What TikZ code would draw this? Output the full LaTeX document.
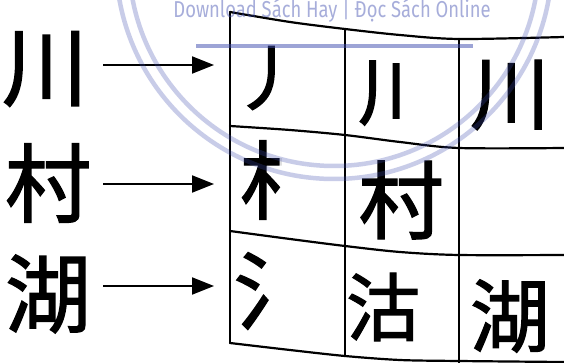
\documentclass[tikz,border=0pt]{standalone}
\usepackage{fontspec}
\newfontfamily\cjk[FakeBold=1.6]{Noto Sans CJK SC}
\newfontfamily\wmfont{Fira Sans}
\usetikzlibrary{arrows.meta}
\definecolor{wmblue}{RGB}{60,75,175}
\begin{document}
\begin{tikzpicture}[x=1pt,y=-1pt,
  gridline/.style={line width=2.2pt, line join=round, line cap=round},
  arr/.style={line width=2pt, -{Triangle[length=22pt,width=17pt]}},
  ch/.style={inner sep=0pt, font={\cjk\fontsize{#1}{#1}\selectfont}},
  wmarc/.style={draw=wmblue, opacity=0.28, line width=4.5pt},
  wmline/.style={draw=wmblue, opacity=0.5, line width=4pt},
  wmtext/.style={inner sep=0pt, text=wmblue, text opacity=0.45, font={\wmfont\fontsize{23}{23}\selectfont}}
]
\useasboundingbox (0,0) rectangle (564,363);
\fill[white] (0,0) rectangle (564,363);

% left characters
\node[ch=86] (c1) at (45,69) {川};
\node[ch=86] (c2) at (48,183) {村};
\node[ch=86] (c3) at (48,294) {湖};

% arrows
\coordinate (s1) at (103,65);  \coordinate (t1) at (214,65);
\coordinate (s2) at (103,184); \coordinate (t2) at (214,184);
\coordinate (s3) at (103,286); \coordinate (t3) at (214,286);
\draw[arr] (s1) -- (t1);
\draw[arr] (s2) -- (t2);
\draw[arr] (s3) -- (t3);

% grid
\draw[gridline] plot[smooth,tension=0.5] coordinates {(230,12) (290,22) (345,29) (400,35) (459,39) (564,37)};
\draw[gridline] plot[smooth,tension=0.5] coordinates {(230,126) (290,130) (345,135) (400,142) (459,148) (564,148)};
\draw[gridline] plot[smooth,tension=0.5] coordinates {(230,231) (290,239) (345,246) (400,252) (459,255) (564,255)};
\draw[gridline] plot[smooth,tension=0.5] coordinates {(230,343) (290,350) (345,356) (400,360) (459,361) (564,362)};
\draw[gridline] (230,12) -- (230,343);
\draw[gridline] (345,29) -- (345,356);
\draw[gridline] (459,39) -- (459,363);

% cell characters
\node[ch=72] (r1c1) at (268,78) {丿};
\begin{scope}
  \clip (350,50) rectangle (410,130);
  \node[ch=74] (r1c2) at (395,93) {川};
\end{scope}
\node[ch=80] (r1c3) at (510,95) {川};
\begin{scope}
  \clip (236,130) rectangle (281,228);
  \node[ch=86] (r2c1) at (283,180) {村};
\end{scope}
\node[ch=85] (r2c2) at (401,200) {村};
\node[ch=85] (r3c1) at (276,291) {氵};
\node[ch=74] (r3c2) at (383,307) {沽};
\node[ch=80] (r3c3) at (510,316) {湖};

% watermark
\begin{scope}
  \clip (0,0) rectangle (564,363);
  \draw[wmarc] (334,-39) circle[radius=205pt];
  \draw[wmarc] (334,-39) circle[radius=218pt];
  \coordinate (b1) at (196,46); \coordinate (b2) at (473,46);
  \draw[wmline] (b1) -- (b2);
  \node[wmtext, anchor=base] (wm) at (332,18) {\scalebox{0.8}[1]{Download Sách Hay | Đọc Sách Online}};
\end{scope}
\end{tikzpicture}
\end{document}
